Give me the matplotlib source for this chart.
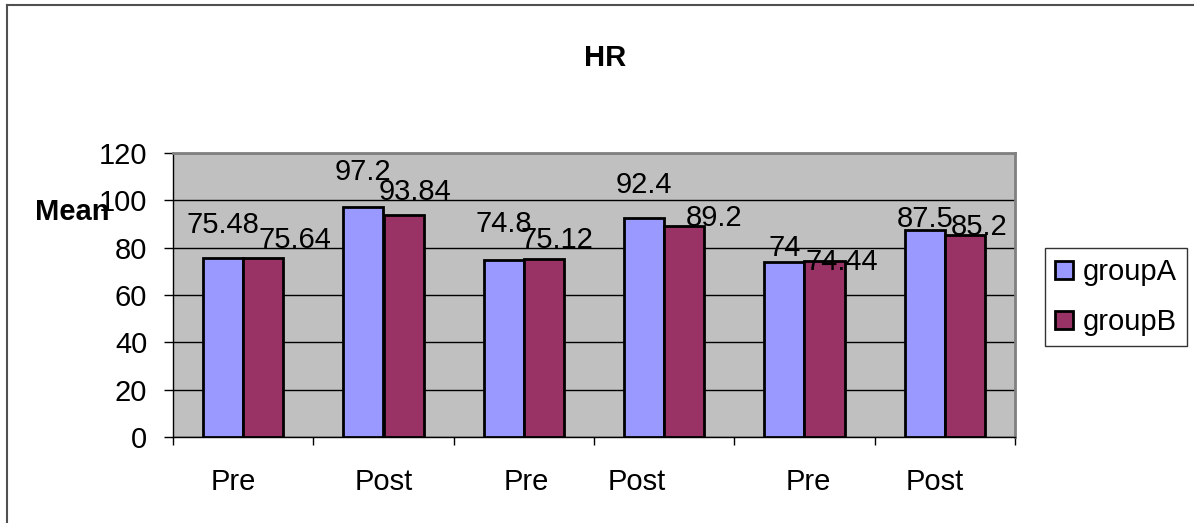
import matplotlib
matplotlib.use("Agg")
import matplotlib.pyplot as plt
import matplotlib.transforms as mtransforms
from matplotlib.patches import Patch
from matplotlib.lines import Line2D
import numpy as np

plt.rcParams['font.family'] = ['Liberation Sans', 'DejaVu Sans']

# data
categories = ["Pre", "Post", "Pre", "Post", "Pre", "Post"]
groupA = [75.48, 97.2, 74.8, 92.4, 74, 87.5]
groupB = [75.64, 93.84, 75.12, 89.2, 74.44, 85.2]
series_names = ["groupA", "groupB"]
yticks = [0, 20, 40, 60, 80, 100, 120]

# styling
col_a = "#9999FF"
col_b = "#993366"
plot_bg = "#C0C0C0"
fs = 21
bar_w = 0.286

# value label offsets in pixels (dx, dy above bar top)
offs_a = [(0, 25), (0, 27), (0, 28), (0, 25), (0, 6), (0, 3)]
offs_b = [(32, 10), (11, 15), (13, 11), (30, 0), (17, -9), (14, 0)]
# category label shifts in pixels
xlab_shift = [-10, 0, 2, -27, 4, -10]

W, H = 1194, 523
fig = plt.figure(figsize=(W / 100, H / 100), dpi=100)
ax = fig.add_axes([173 / W, (H - 437) / H, (1015 - 173) / W, (437 - 153) / H])
ax.set_facecolor(plot_bg)

x = np.arange(len(categories))
bars_a = ax.bar(x - bar_w / 2, groupA, bar_w, color=col_a, edgecolor="black", linewidth=2, zorder=3)
bars_b = ax.bar(x + bar_w / 2, groupB, bar_w, color=col_b, edgecolor="black", linewidth=2, zorder=3)

for bars, vals, offs in [(bars_a, groupA, offs_a), (bars_b, groupB, offs_b)]:
    for b, v, (dx, dy) in zip(bars, vals, offs):
        ax.annotate(f"{v:g}", (b.get_x() + b.get_width() / 2, v), xytext=(dx, dy),
                    textcoords="offset pixels", ha="center", va="baseline",
                    fontsize=fs, zorder=5, annotation_clip=False)

ax.set_xlim(-0.5, len(categories) - 0.5)
ax.set_ylim(0, 120)
ax.set_yticks(yticks)
ax.tick_params(axis="y", labelsize=fs, length=6.5, width=1, pad=12, direction="out")
ax.yaxis.grid(True, color="black", linewidth=1)
ax.set_axisbelow(True)

# ticks on category boundaries, labels in the middle
ax.set_xticks(np.arange(len(categories) + 1) - 0.5)
ax.set_xticklabels([])
ax.tick_params(axis="x", which="major", length=6, width=1, direction="out")
ax.set_xticks(x, minor=True)
ax.set_xticklabels(categories, minor=True)
ax.tick_params(axis="x", which="minor", length=0, labelsize=fs, pad=22)
for lab, s in zip(ax.get_xticklabels(minor=True), xlab_shift):
    lab.set_transform(lab.get_transform() + mtransforms.ScaledTranslation(s / 100, 0, fig.dpi_scale_trans))

for side in ["left", "bottom"]:
    ax.spines[side].set_color("black")
    ax.spines[side].set_linewidth(1)
for side in ["top", "right"]:
    ax.spines[side].set_color("#808080")
    ax.spines[side].set_linewidth(2)

fig.text(605 / W, 1 - 58 / H, "HR", ha="center", va="center", fontsize=fs, fontweight="bold")
fig.text(72 / W, 1 - 212 / H, "Mean", ha="center", va="center", fontsize=fs, fontweight="bold")

handles = [Patch(facecolor=col_a, edgecolor="black", linewidth=2),
           Patch(facecolor=col_b, edgecolor="black", linewidth=2)]
leg = fig.legend(handles, series_names, loc="upper left", bbox_to_anchor=(1045 / W, 1 - 248 / H),
                 fontsize=fs, frameon=True, fancybox=False, borderaxespad=0,
                 handlelength=0.6, handleheight=0.6, handletextpad=0.35,
                 labelspacing=0.75, borderpad=0.35)
leg.get_frame().set_edgecolor("black")
leg.get_frame().set_linewidth(1)

# chart outline
fig.add_artist(Line2D([7 / W, 7 / W], [0, 1 - 4.5 / H], transform=fig.transFigure, color="#505050", linewidth=1.5))
fig.add_artist(Line2D([7 / W, 1], [1 - 4.5 / H, 1 - 4.5 / H], transform=fig.transFigure, color="#505050", linewidth=1.5))

fig.savefig("out.png", dpi=100)
